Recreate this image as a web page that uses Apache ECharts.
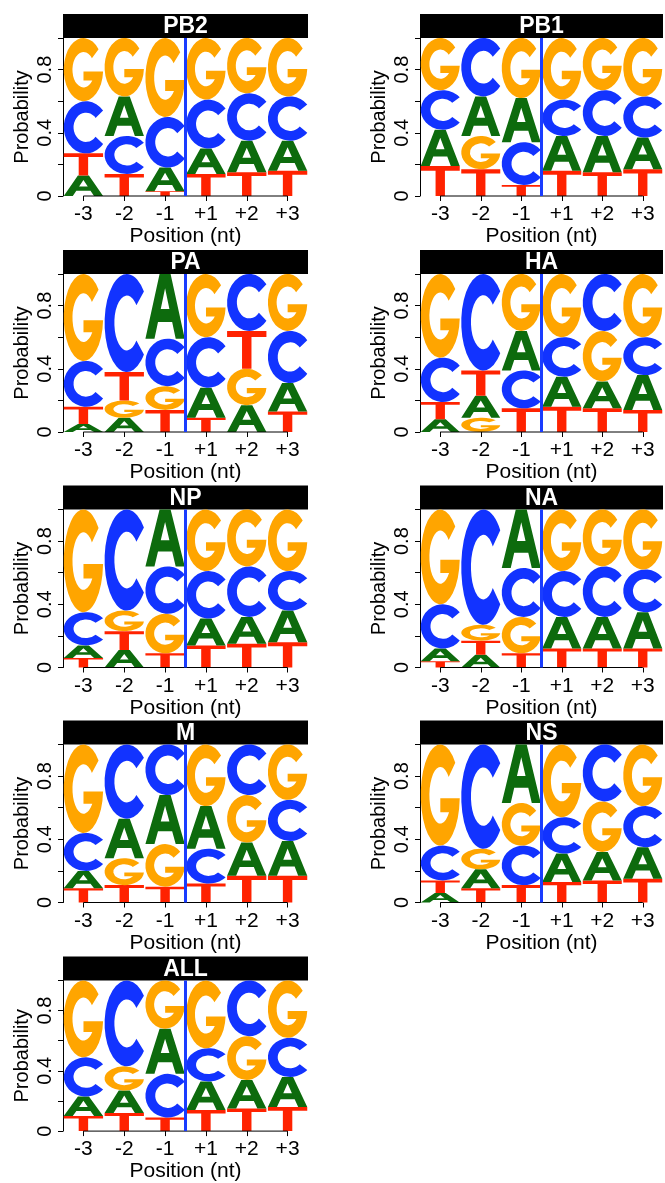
<!DOCTYPE html>
<html style="height: 100%">
<head>
    <meta charset="utf-8">
    <script src="https://cdn.jsdelivr.net/npm/echarts@6/dist/echarts.min.js"></script>
</head>
<body style="height: 100%; margin: 0; background: #fff">
    <div id="main" style="width:665px;height:1183px;"></div>
    <script type="text/javascript">
    var myChart = echarts.init(document.getElementById('main'));

    // position labels and base order used in the arrays below: [A, C, G, T]
    var posLabels = ['-3', '-2', '-1', '+1', '+2', '+3'];
    var bases = ['A', 'C', 'G', 'T'];
    var panelNames = ['PB2', 'PB1', 'PA', 'HA', 'NP', 'NA', 'M', 'NS', 'ALL'];
    var yLabelValues = [0, 0.4, 0.8];

    // probability of each base at each position, [A, C, G, T]
    var PB2 = [[0.13, 0.33, 0.40, 0.14], [0.25, 0.24, 0.37, 0.14], [0.15, 0.32, 0.50, 0.03],
               [0.16, 0.31, 0.39, 0.14], [0.20, 0.30, 0.35, 0.15], [0.19, 0.28, 0.37, 0.16]];
    var PB1 = [[0.23, 0.25, 0.33, 0.19], [0.25, 0.37, 0.21, 0.17], [0.28, 0.27, 0.38, 0.07],
               [0.22, 0.23, 0.39, 0.16], [0.23, 0.29, 0.33, 0.15], [0.20, 0.26, 0.37, 0.17]];
    var PA  = [[0.05, 0.29, 0.55, 0.11], [0.09, 0.62, 0.11, 0.18], [0.41, 0.30, 0.15, 0.14],
               [0.19, 0.32, 0.40, 0.09], [0.17, 0.36, 0.23, 0.24], [0.18, 0.33, 0.36, 0.13]];
    var HA  = [[0.08, 0.28, 0.53, 0.11], [0.14, 0.61, 0.09, 0.16], [0.25, 0.24, 0.36, 0.15],
               [0.19, 0.25, 0.40, 0.16], [0.17, 0.36, 0.32, 0.15], [0.22, 0.24, 0.40, 0.14]];
    var NP  = [[0.08, 0.21, 0.65, 0.06], [0.11, 0.64, 0.13, 0.12], [0.36, 0.30, 0.25, 0.09],
               [0.17, 0.30, 0.39, 0.14], [0.17, 0.32, 0.36, 0.15], [0.20, 0.25, 0.39, 0.16]];
    var NA  = [[0.08, 0.28, 0.60, 0.04], [0.08, 0.73, 0.10, 0.09], [0.37, 0.31, 0.23, 0.09],
               [0.20, 0.29, 0.39, 0.12], [0.20, 0.32, 0.36, 0.12], [0.23, 0.27, 0.38, 0.12]];
    var M   = [[0.11, 0.24, 0.56, 0.09], [0.25, 0.47, 0.17, 0.11], [0.31, 0.32, 0.27, 0.10],
               [0.27, 0.22, 0.39, 0.12], [0.21, 0.32, 0.30, 0.17], [0.22, 0.26, 0.35, 0.17]];
    var NS  = [[0.06, 0.22, 0.64, 0.08], [0.12, 0.66, 0.13, 0.09], [0.37, 0.25, 0.27, 0.11],
               [0.18, 0.23, 0.46, 0.13], [0.18, 0.36, 0.32, 0.14], [0.20, 0.26, 0.39, 0.15]];
    var ALL = [[0.13, 0.26, 0.51, 0.10], [0.15, 0.57, 0.16, 0.12], [0.30, 0.29, 0.32, 0.09],
               [0.19, 0.22, 0.45, 0.14], [0.19, 0.37, 0.29, 0.15], [0.20, 0.26, 0.38, 0.16]];
    var panels = [PB2, PB1, PA, HA, NP, NA, M, NS, ALL];

    // letter outlines, stretched into their box
    var glyphs = {
        A: 'M0,100 L36,0 L64,0 L100,100 L77,100 L68,74 L32,74 L23,100 Z M39,54 L61,54 L50,22 Z',
        C: 'M88.3,17.9 A50,50 0 1,0 88.3,82.1 L71.4,68 A28,28 0 1,1 71.4,32 Z',
        G: 'M88.3,17.9 A50,50 0 1,0 99.8,53 L50,53 L50,67 L72.4,67 A28,28 0 1,1 71.4,32 Z',
        T: 'M0,0 L100,0 L100,16 L62,16 L62,100 L38,100 L38,16 L0,16 Z'
    };
    var baseColors = { A: '#0d6b0d', C: '#1233ff', G: '#ffa500', T: '#ff2200' };

    var colLeft = [63, 420];
    var colWidth = [245, 243];
    var rowTop = [38, 274, 509.5, 744.5, 980.5];
    var plotH = 158;
    var barH = 24;
    var font = '"Liberation Sans", Arial, sans-serif';

    function stackColumns(panel) {
        var out = [];
        panel.forEach(function (probs, i) {
            var order = [0, 1, 2, 3].sort(function (a, b) { return probs[a] - probs[b]; });
            var y = 0;
            order.forEach(function (k) {
                out.push([i, y, y + probs[k], k]);
                y += probs[k];
            });
        });
        return out;
    }

    function renderLetter(params, api) {
        var x = api.value(0);
        var lo = api.coord([x, api.value(1)]);
        var hi = api.coord([x, api.value(2)]);
        var base = bases[api.value(3)];
        var w = api.size([1, 0])[0] - 1.5;
        var h = lo[1] - hi[1];
        if (h < 0.3) return;
        return {
            type: 'path',
            shape: { pathData: glyphs[base], x: lo[0] - w / 2, y: hi[1], width: w, height: h, layout: 'cover' },
            style: { fill: baseColors[base] }
        };
    }

    function renderFrame(params, api) {
        var a = api.coord([0, 0]);
        var b = api.coord([5, 0]);
        var c2 = api.coord([2, 0]);
        var c3 = api.coord([3, 1]);
        var mid = (c2[0] + c3[0]) / 2;
        return {
            type: 'group',
            children: [
                { type: 'line', shape: { x1: a[0], y1: a[1], x2: b[0], y2: b[1] }, style: { stroke: '#000', lineWidth: 1 } },
                { type: 'line', shape: { x1: mid, y1: a[1], x2: mid, y2: c3[1] }, style: { stroke: '#1a3cff', lineWidth: 3 } }
            ]
        };
    }

    var grids = [], xAxes = [], yAxes = [], series = [], graphics = [];
    panels.forEach(function (panel, i) {
        var col = i % 2, row = Math.floor(i / 2);
        var left = colLeft[col], top = rowTop[row], width = colWidth[col];
        grids.push({ left: left, top: top, width: width, height: plotH });
        xAxes.push({
            type: 'category', gridIndex: i, data: posLabels,
            axisLine: { show: false },
            axisTick: { show: true, alignWithLabel: true, length: 5, lineStyle: { color: '#000' } },
            axisLabel: { color: '#000', fontSize: 21, fontFamily: font, margin: 8 },
            name: 'Position (nt)', nameLocation: 'middle', nameGap: 25,
            nameTextStyle: { color: '#000', fontSize: 21, fontFamily: font }
        });
        yAxes.push({
            type: 'value', gridIndex: i, min: 0, max: 1, interval: 0.2,
            splitLine: { show: false },
            axisLine: { show: true, lineStyle: { color: '#000', width: 1 } },
            axisTick: { show: true, length: 5, lineStyle: { color: '#000' } },
            axisLabel: {
                color: '#000', fontSize: 20, fontFamily: font, rotate: 90, margin: 8,
                formatter: function (v) {
                    var hit = yLabelValues.filter(function (t) { return Math.abs(t - v) < 1e-6; });
                    return hit.length ? String(hit[0]) : '';
                }
            },
            name: 'Probability', nameLocation: 'middle', nameGap: 31,
            nameTextStyle: { color: '#000', fontSize: 20, fontFamily: font }
        });
        series.push({
            type: 'custom', xAxisIndex: i, yAxisIndex: i, z: 2,
            renderItem: renderLetter, encode: { x: 0, y: [1, 2] },
            data: stackColumns(panel)
        });
        series.push({
            type: 'custom', xAxisIndex: i, yAxisIndex: i, z: 5,
            renderItem: renderFrame, data: [[0]], silent: true
        });
        graphics.push({
            type: 'rect', left: left, top: top - barH,
            shape: { width: width, height: barH }, style: { fill: '#000' }
        });
        graphics.push({
            type: 'text', x: left + width / 2, y: top - barH / 2 + 1,
            style: {
                text: panelNames[i], fill: '#fff', font: 'bold 23px ' + font,
                textAlign: 'center', textVerticalAlign: 'middle'
            }
        });
    });

    var option = {
        animation: false,
        backgroundColor: '#fff',
        grid: grids,
        xAxis: xAxes,
        yAxis: yAxes,
        series: series,
        graphic: graphics
    };
    myChart.setOption(option);
    </script>
</body>
</html>
